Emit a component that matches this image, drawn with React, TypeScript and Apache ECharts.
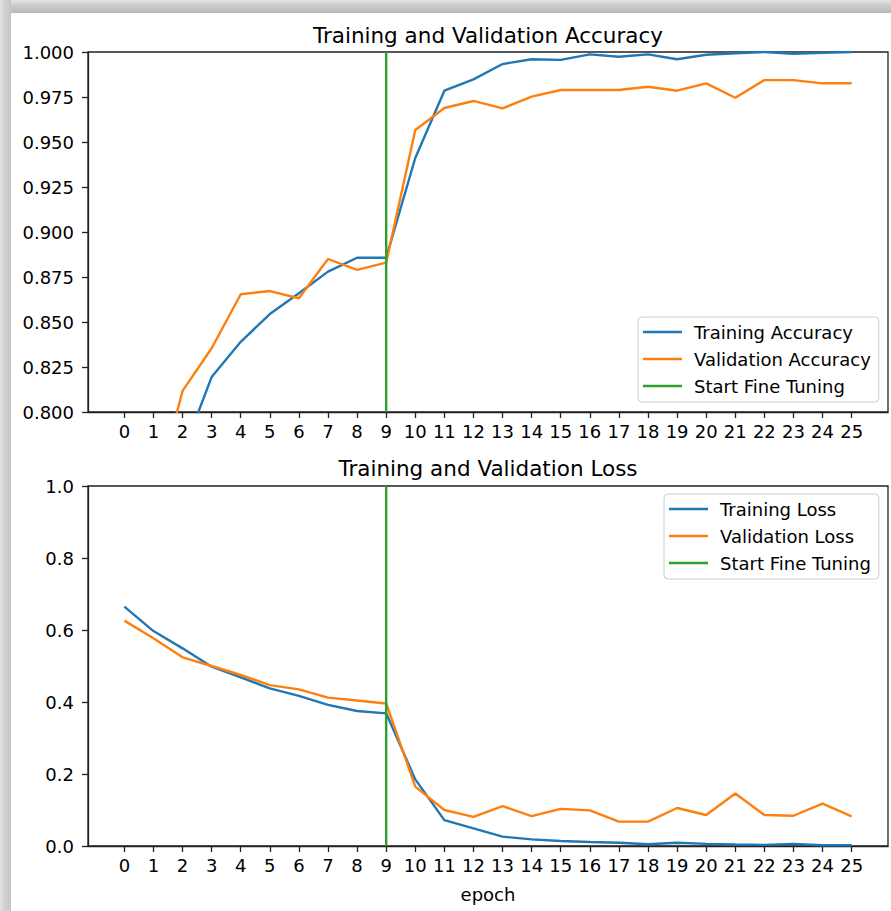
import React, { useEffect, useRef } from "react";
import * as echarts from "echarts";

const epochs = [0, 1, 2, 3, 4, 5, 6, 7, 8, 9, 10, 11, 12, 13, 14, 15, 16, 17, 18, 19, 20, 21, 22, 23, 24, 25];

const trainAcc = [0.62, 0.72, 0.777, 0.8194, 0.839, 0.8544, 0.866, 0.878, 0.8857, 0.8857, 0.9411, 0.9785, 0.9848, 0.9933, 0.996, 0.9956, 0.9987, 0.9974, 0.9987, 0.996, 0.9985, 0.9993, 1.0, 0.999, 0.9995, 1.0];
const valAcc = [0.69, 0.75, 0.8117, 0.8354, 0.8654, 0.8672, 0.8632, 0.885, 0.879, 0.883, 0.9567, 0.9689, 0.9728, 0.9687, 0.9752, 0.9789, 0.9789, 0.9789, 0.9807, 0.9785, 0.9826, 0.9746, 0.9844, 0.9844, 0.9826, 0.9826];

const trainLoss = [0.665, 0.597, 0.549, 0.498, 0.4685, 0.438, 0.417, 0.392, 0.375, 0.3685, 0.185, 0.072, 0.049, 0.026, 0.0185, 0.014, 0.011, 0.009, 0.005, 0.009, 0.006, 0.004, 0.003, 0.006, 0.002, 0.002];
const valLoss = [0.626, 0.577, 0.524, 0.5, 0.475, 0.447, 0.435, 0.412, 0.404, 0.396, 0.165, 0.1, 0.081, 0.111, 0.083, 0.103, 0.099, 0.0676, 0.0676, 0.1056, 0.086, 0.146, 0.086, 0.084, 0.1176, 0.0824];

const fineTuneEpoch = 9;
const accYLim = [0.8, 1.0];
const lossYLim = [0, 1.0];
const xLim = [-1.25, 26.25];

const titles = ["Training and Validation Accuracy", "Training and Validation Loss"];
const accNames = ["Training Accuracy", "Validation Accuracy", "Start Fine Tuning"];
const lossNames = ["Training Loss", "Validation Loss", "Start Fine Tuning"];

const BLUE = "#1f77b4";
const ORANGE = "#ff7f0e";
const GREEN = "#2ca02c";
const FONT = "DejaVu Sans";
const FS = 18;
const AXC = "#222";

const pairs = (arr: number[]) => epochs.map((e, i) => [e, arr[i]]);

export default function App() {
  const ref = useRef<HTMLDivElement>(null);
  useEffect(() => {
    document.body.style.margin = "0";
    const chart = echarts.init(ref.current!, null, { renderer: "svg" });
    const xAxisBase = (gi: number, withName: boolean) => ({
      type: "value",
      gridIndex: gi,
      min: xLim[0],
      max: xLim[1],
      splitLine: { show: false },
      axisLine: { show: true, onZero: false, lineStyle: { color: AXC, width: 1.3 } },
      axisTick: { show: true, length: 6, customValues: epochs, lineStyle: { color: AXC, width: 1.3 } },
      axisLabel: { customValues: epochs, color: "#000", fontFamily: FONT, fontSize: FS, margin: 10 },
      name: withName ? "epoch" : "",
      nameLocation: "middle",
      nameGap: 39,
      nameTextStyle: { color: "#000", fontFamily: FONT, fontSize: FS },
    });
    const yAxisBase = (gi: number, lim: number[], interval: number, dec: number) => ({
      type: "value",
      gridIndex: gi,
      min: lim[0],
      max: lim[1],
      interval,
      splitLine: { show: false },
      axisLine: { show: true, onZero: false, lineStyle: { color: AXC, width: 1.3 } },
      axisTick: { show: true, length: 6, lineStyle: { color: AXC, width: 1.3 } },
      axisLabel: {
        color: "#000",
        fontFamily: FONT,
        fontSize: FS,
        margin: 14,
        formatter: (v: number) => v.toFixed(dec),
      },
    });
    const lineSeries = (name: string, data: number[][], color: string, xi: number) => ({
      type: "line",
      name,
      xAxisIndex: xi,
      yAxisIndex: xi,
      data,
      symbol: "none",
      clip: true,
      lineStyle: { color, width: 2.4 },
      itemStyle: { color },
      emphasis: { disabled: true },
    });
    const legendBase = (names: string[], left: number, top: number) => ({
      data: names.map((n) => ({ name: n, icon: "rect" })),
      orient: "vertical",
      left,
      top,
      itemWidth: 39,
      itemHeight: 2.6,
      itemGap: 7,
      padding: [5, 8, 6, 5],
      backgroundColor: "rgba(255,255,255,0.8)",
      borderColor: "#cccccc",
      borderWidth: 1,
      borderRadius: 4,
      selectedMode: false,
      textStyle: { color: "#000", fontFamily: FONT, fontSize: FS, lineHeight: 20, padding: [0, 0, 0, 7] },
    });
    chart.setOption({
      animation: false,
      backgroundColor: "#ffffff",
      grid: [
        { left: 88, top: 52, width: 800, height: 360, show: true, borderColor: AXC, borderWidth: 1.3, backgroundColor: "transparent" },
        { left: 88, top: 486, width: 800, height: 360, show: true, borderColor: AXC, borderWidth: 1.3, backgroundColor: "transparent" },
      ],
      xAxis: [xAxisBase(0, false), xAxisBase(1, true)],
      yAxis: [yAxisBase(0, accYLim, 0.025, 3), yAxisBase(1, lossYLim, 0.2, 1)],
      legend: [legendBase(accNames, 638, 317), legendBase(lossNames, 664, 494)],
      series: [
        lineSeries(accNames[0], pairs(trainAcc), BLUE, 0),
        lineSeries(accNames[1], pairs(valAcc), ORANGE, 0),
        lineSeries(accNames[2], [[fineTuneEpoch, accYLim[0]], [fineTuneEpoch, accYLim[1]]], GREEN, 0),
        lineSeries(lossNames[0], pairs(trainLoss), BLUE, 1),
        lineSeries(lossNames[1], pairs(valLoss), ORANGE, 1),
        lineSeries(lossNames[2], [[fineTuneEpoch, lossYLim[0]], [fineTuneEpoch, lossYLim[1]]], GREEN, 1),
      ],
      graphic: [
        {
          type: "rect",
          silent: true,
          shape: { x: 0, y: 0, width: 891, height: 13 },
          style: {
            fill: new echarts.graphic.LinearGradient(0, 0, 0, 1, [
              { offset: 0, color: "#e6e6e6" },
              { offset: 0.35, color: "#cfcfcf" },
              { offset: 1, color: "#b9b9b9" },
            ]),
          },
        },
        {
          type: "rect",
          silent: true,
          shape: { x: 0, y: 0, width: 11, height: 911 },
          style: {
            fill: new echarts.graphic.LinearGradient(0, 0, 1, 0, [
              { offset: 0, color: "#e2e2e2" },
              { offset: 0.35, color: "#d2d2d2" },
              { offset: 1, color: "#c6c6c6" },
            ]),
          },
        },
        {
          type: "text",
          silent: true,
          style: { text: titles[0], x: 488, y: 35, textAlign: "center", textVerticalAlign: "middle", fill: "#000", font: `21.5px "${FONT}"` },
        },
        {
          type: "text",
          silent: true,
          style: { text: titles[1], x: 488, y: 468, textAlign: "center", textVerticalAlign: "middle", fill: "#000", font: `21.5px "${FONT}"` },
        },
      ],
    });
    return () => chart.dispose();
  }, []);
  return <div ref={ref} style={{ width: 891, height: 911 }} />;
}
